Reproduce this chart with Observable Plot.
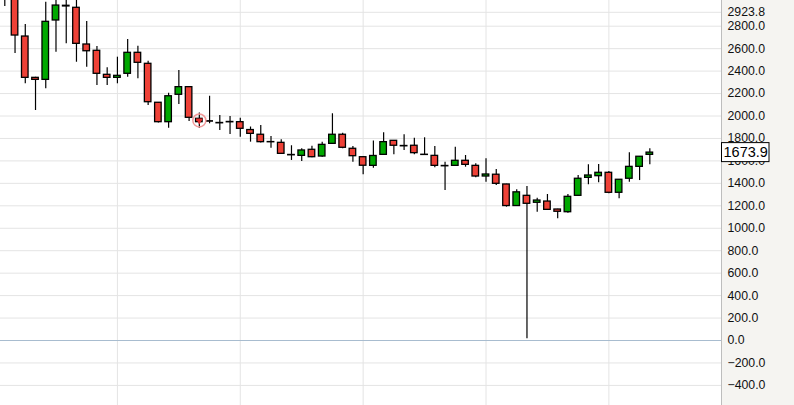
<!DOCTYPE html>
<html>
<head>
<meta charset="utf-8">
<script src="https://cdn.jsdelivr.net/npm/d3@7"></script>
<script src="https://cdn.jsdelivr.net/npm/@observablehq/plot@0.6"></script>
<style>
  html, body { margin: 0; padding: 0; background: #fff; }
  #chart { position: relative; width: 794px; height: 405px; }
</style>
</head>
<body>
<div id="chart"></div>
<script>
// ---- data ----
const open = [3060, 3080, 2708, 2340, 2322, 2851, 2982, 2964, 2637, 2581, 2367, 2340, 2376, 2563, 2465, 2118, 1945, 2189, 2257, 1975, 1953, 1938, 1947, 1945, 1875, 1833, 1768, 1761, 1653, 1645, 1699, 1639, 1752, 1833, 1708, 1633, 1556, 1654, 1779, 1733, 1735, 1655, 1645, 1555, 1556, 1601, 1556, 1461, 1477, 1390, 1198, 1289, 1227, 1238, 1167, 1143, 1289, 1449, 1464, 1494, 1316, 1441, 1547, 1654];
const close = [3090, 2717, 2340, 2322, 2839, 2984, 2976, 2643, 2577, 2376, 2340, 2358, 2563, 2474, 2123, 1945, 2176, 2257, 1984, 1945, 1950, 1935, 1944, 1886, 1841, 1767, 1766, 1663, 1650, 1693, 1633, 1743, 1833, 1717, 1642, 1557, 1644, 1767, 1735, 1730, 1669, 1653, 1556, 1552, 1601, 1565, 1461, 1479, 1396, 1198, 1320, 1218, 1247, 1164, 1147, 1280, 1441, 1470, 1494, 1316, 1432, 1547, 1637, 1673.9];
const high = [3120, 3120, 2815, 2345, 3014, 3060, 3040, 3040, 2842, 2619, 2429, 2524, 2682, 2622, 2488, 2120, 2203, 2405, 2262, 2027, 2176, 2004, 1996, 1980, 1902, 1915, 1817, 1788, 1735, 1708, 1731, 1767, 2020, 1847, 1728, 1639, 1777, 1850, 1780, 1833, 1802, 1806, 1728, 1588, 1722, 1648, 1574, 1619, 1523, 1392, 1343, 1372, 1268, 1301, 1170, 1301, 1470, 1565, 1568, 1506, 1433, 1672, 1638, 1708];
const low = [2975, 2557, 2287, 2049, 2242, 2568, 2643, 2479, 2435, 2272, 2272, 2287, 2346, 2331, 2094, 1938, 1891, 2102, 1951, 1889, 1931, 1871, 1835, 1811, 1767, 1759, 1713, 1657, 1604, 1595, 1628, 1633, 1746, 1708, 1588, 1476, 1535, 1654, 1654, 1693, 1654, 1652, 1539, 1336, 1556, 1544, 1449, 1410, 1381, 1188, 1196, 15, 1143, 1158, 1084, 1134, 1286, 1387, 1405, 1307, 1262, 1410, 1425, 1565];
const yTicks = [-400, -200, 0, 200, 400, 600, 800, 1000, 1200, 1400, 1600, 1800, 2000, 2200, 2400, 2600, 2800];
const topLabel = [2923.8];
const xGridBars = [11, 23, 35, 47, 59];
const markedBar = [19];
const lastValue = close[close.length - 1];

const bars = open.map((o, i) => ({
  i, open: o, close: close[i], high: high[i], low: low[i],
  lo: Math.min(o, close[i]), hi: Math.max(o, close[i]),
  up: close[i] >= o
}));

const RED = "#ee4137", GREEN = "#00a800", GRID = "#e4e4e4";

const plot = Plot.plot({
  width: 794, height: 405,
  marginLeft: 0, marginRight: 73, marginTop: 0, marginBottom: 0,
  style: {
    fontFamily: "'Liberation Sans', Arial, sans-serif",
    background: "linear-gradient(to right, #ffffff 721px, #bdbdbd 721px, #bdbdbd 722px, #f5f4f1 722px)",
    overflow: "hidden"
  },
  x: { type: "linear", domain: [-0.42, 70.0], axis: null },
  y: { domain: [-579, 3029], axis: null },
  marks: [
    Plot.gridY(yTicks.concat(topLabel), { stroke: GRID, strokeOpacity: 1 }),
    Plot.ruleX(xGridBars, { stroke: GRID, strokeOpacity: 1 }),
    Plot.ruleY([0], { stroke: "#a8bccf", strokeWidth: 1 }),
    Plot.ruleX(bars, { x: "i", y1: "low", y2: "high", stroke: "#000", strokeWidth: 1.2, clip: true }),
    Plot.rect(bars, {
      x1: d => d.i - 0.32, x2: d => d.i + 0.32, y1: "lo", y2: "hi",
      fill: d => d.up ? GREEN : RED, stroke: "#000", strokeWidth: 1.3, clip: true
    }),
    Plot.dot(markedBar, { x: d => d, y: d => (open[d] + close[d]) / 2, r: 6.5, stroke: "#f29a9a", strokeWidth: 1.5, fill: "none" }),
    Plot.dot(markedBar, { x: d => d, y: d => (open[d] + close[d]) / 2, r: 2.6, symbol: "triangle", rotate: 180, fill: "#e52b2b", stroke: "none" }),
    Plot.axisY(yTicks.concat(topLabel), {
      anchor: "right", tickSize: 0, tickPadding: 6,
      tickFormat: d3.format(".1f"), fontSize: "12.3px", fill: "#111", textAnchor: "start"
    })
  ]
});

document.getElementById("chart").appendChild(plot);

// last-price box on the axis, positioned through the plot's own y scale
const ly = plot.scale("y").apply(lastValue);
const svg = d3.select(plot);
svg.append("rect")
  .attr("x", 721.5).attr("y", ly - 9.5).attr("width", 47.5).attr("height", 19)
  .attr("fill", "#fff").attr("stroke", "#000").attr("stroke-width", 1);
svg.append("text")
  .attr("x", 723.5).attr("y", ly).attr("dy", "0.36em")
  .attr("text-anchor", "start")
  .attr("font-size", "14.5px").attr("fill", "#000")
  .attr("font-family", "'Liberation Sans', Arial, sans-serif")
  .text(d3.format(".1f")(lastValue));
</script>
</body>
</html>
